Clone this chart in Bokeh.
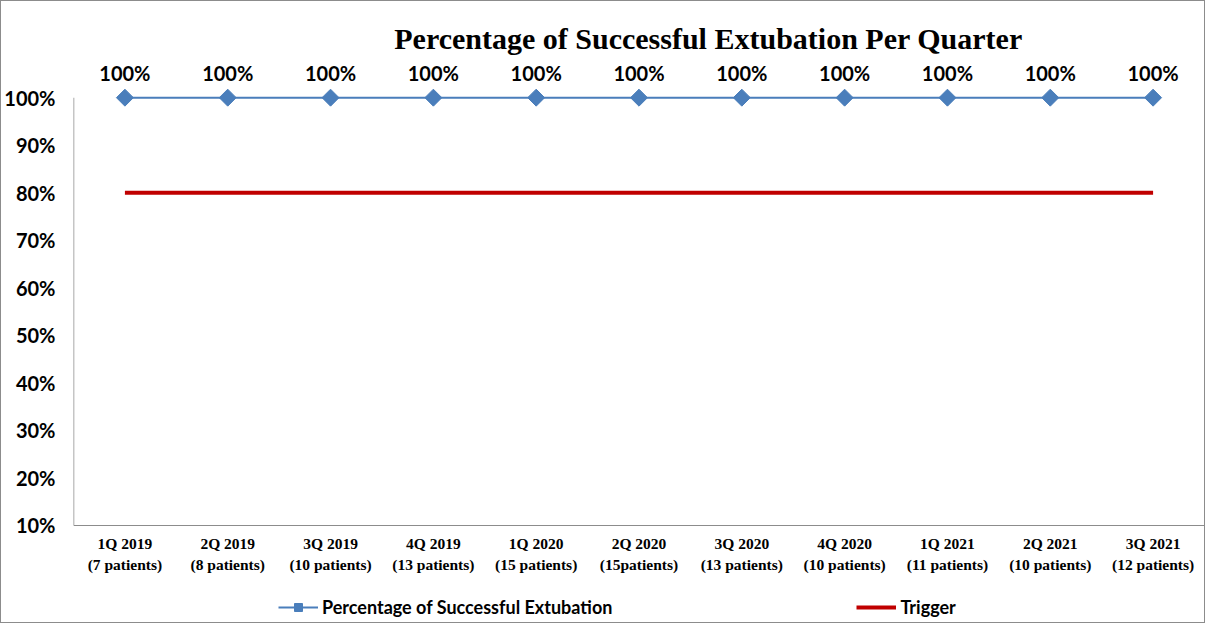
import math
from bokeh.plotting import figure
from bokeh.models import (ColumnDataSource, FixedTicker, NumeralTickFormatter, Range1d,
                          LabelSet, Label, Legend, LegendItem)
from bokeh.core.properties import value
from bokeh.embed import file_html
from bokeh.resources import INLINE

quarters = ["1Q 2019", "2Q 2019", "3Q 2019", "4Q 2019", "1Q 2020", "2Q 2020",
            "3Q 2020", "4Q 2020", "1Q 2021", "2Q 2021", "3Q 2021"]
patients = ["(7 patients)", "(8 patients)", "(10 patients)", "(13 patients)", "(15 patients)",
            "(15patients)", "(13 patients)", "(10 patients)", "(11 patients)", "(10 patients)",
            "(12 patients)"]
success = [1.0, 1.0, 1.0, 1.0, 1.0, 1.0, 1.0, 1.0, 1.0, 1.0, 1.0]
trigger = [0.8] * 11
y_ticks = [0.1, 0.2, 0.3, 0.4, 0.5, 0.6, 0.7, 0.8, 0.9, 1.0]

xs = list(range(len(quarters)))
labels = ["%d%%" % round(v * 100) for v in success]
src = ColumnDataSource(dict(x=xs, y=success, lab=labels))
trig = ColumnDataSource(dict(x=xs, y=trigger))

W, H = 1205, 623
p = figure(width=W, height=H, output_backend="svg", toolbar_location=None,
           x_range=Range1d(-0.5, 10.5), y_range=Range1d(-0.1087, 1.2024),
           min_border_left=72, min_border_right=2, min_border_top=0, min_border_bottom=0)
p.styles = {"border": "1px solid #8c8c8c"}
p.outline_line_color = None
p.xgrid.visible = False
p.ygrid.visible = False

# x axis drawn at the 10% level, inside the frame
p.xaxis.fixed_location = y_ticks[0]
p.xaxis.ticker = FixedTicker(ticks=xs)
p.xaxis.major_label_overrides = {i: q + "\n" + pt for i, (q, pt) in enumerate(zip(quarters, patients))}
p.xaxis.major_label_text_font = "Liberation Serif"
p.xaxis.major_label_text_font_style = "bold"
p.xaxis.major_label_text_font_size = "15.5px"
p.xaxis.major_label_text_color = "#000000"
p.xaxis.major_tick_line_color = None
p.xaxis.minor_tick_line_color = None
p.xaxis.axis_line_color = "#8c8c8c"
p.xaxis.major_label_standoff = 4

p.yaxis.ticker = FixedTicker(ticks=y_ticks)
p.yaxis.formatter = NumeralTickFormatter(format="0%")
p.yaxis.major_label_text_font = "Lato"
p.yaxis.major_label_text_font_style = "bold"
p.yaxis.major_label_text_font_size = "20px"
p.yaxis.major_label_text_color = "#000000"
p.yaxis.major_tick_line_color = None
p.yaxis.minor_tick_line_color = None
p.yaxis.axis_line_color = None
p.yaxis.major_label_standoff = 12

# y axis line only from 10% up to 100%
p.segment(x0=[-0.5], y0=[y_ticks[0]], x1=[-0.5], y1=[y_ticks[-1]], line_color="#8c8c8c", line_width=1.5)

r_trig = p.line("x", "y", source=trig, line_color="#C00000", line_width=4)
r_line = p.line("x", "y", source=src, line_color="#4A7EBB", line_width=2)
r_mark = p.scatter("x", "y", source=src, marker="square", angle=math.pi / 4, size=12,
                   fill_color="#4A7EBB", line_color="#4A7EBB")

p.add_layout(LabelSet(x="x", y="y", text="lab", source=src, y_offset=13, text_align="center",
                      text_baseline="bottom", text_font=value("Lato"), text_font_style="bold",
                      text_font_size="20px", text_color="#000000"))

# title (screen units are relative to the plot frame's bottom-left corner)
p.add_layout(Label(x=635, y=586, x_units="screen", y_units="screen",
                   text="Percentage of Successful Extubation Per Quarter",
                   text_align="center", text_baseline="middle", text_font="Liberation Serif",
                   text_font_style="bold", text_font_size="30px", text_color="#000000"))

legend = Legend(items=[LegendItem(label="Percentage of Successful Extubation", renderers=[r_line, r_mark]),
                       LegendItem(label="Trigger", renderers=[r_trig])],
                orientation="horizontal", location=(205, 6), spacing=244, glyph_width=40,
                label_text_font="Lato", label_text_font_style="bold", label_text_font_size="18px",
                label_text_color="#000000", border_line_color=None, background_fill_alpha=0,
                label_standoff=4, padding=4, margin=0)
p.add_layout(legend, "center")

open("out.html", "w").write(file_html(p, INLINE))
